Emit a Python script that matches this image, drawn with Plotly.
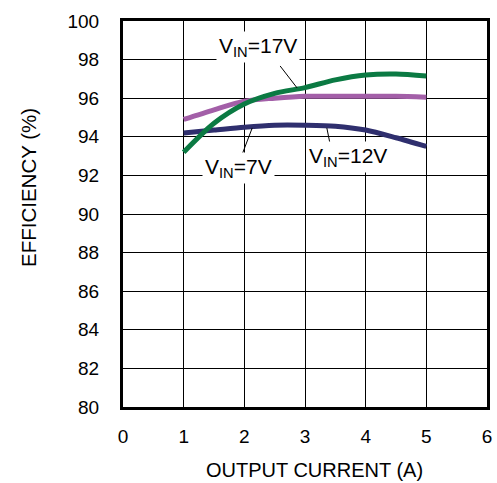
import plotly.graph_objects as go

current = [1, 1.5, 2, 2.5, 3, 3.5, 4, 4.5, 5]
eff_17v = [93.2, 94.7, 95.7, 96.25, 96.55, 96.95, 97.2, 97.25, 97.15]
eff_12v = [94.9, 95.4, 95.85, 96.0, 96.1, 96.1, 96.1, 96.1, 96.05]
eff_7v = [94.2, 94.35, 94.5, 94.6, 94.6, 94.55, 94.35, 93.95, 93.5]

x_ticks = [0, 1, 2, 3, 4, 5, 6]
y_ticks = [80, 82, 84, 86, 88, 90, 92, 94, 96, 98, 100]

FONT = "Liberation Sans, Arial, sans-serif"

fig = go.Figure()
series = [
    ("V<sub>IN</sub>=7V", eff_7v, "#2f2f6e"),
    ("V<sub>IN</sub>=12V", eff_12v, "#a35fa8"),
    ("V<sub>IN</sub>=17V", eff_17v, "#0b7a43"),
]
for name, ys, col in series:
    fig.add_trace(go.Scatter(x=current, y=ys, mode="lines", name=name,
                             line=dict(color=col, width=5, shape="spline", smoothing=0.8)))

# label pointer lines
pointers = [
    (2.59, 97.67, 2.87, 96.53),
    (1.96, 93.06, 2.13, 94.46),
    (3.36, 94.46, 3.41, 93.68),
]
for x0, y0, x1, y1 in pointers:
    fig.add_shape(type="line", x0=x0, y0=y0, x1=x1, y1=y1, xref="x", yref="y",
                  line=dict(color="black", width=1))

labels = [
    ("V<sub>IN</sub>=17V", 2.23, 98.65),
    ("V<sub>IN</sub>=7V", 1.90, 92.38),
    ("V<sub>IN</sub>=12V", 3.71, 92.93),
]
for txt, x, y in labels:
    fig.add_annotation(x=x, y=y, xref="x", yref="y", text=txt, showarrow=False,
                       bgcolor="white", borderpad=2,
                       font=dict(family=FONT, size=21, color="black"))

# axis titles
fig.add_annotation(x=0.5, y=0, xref="paper", yref="paper", xshift=9, yshift=-63, yanchor="middle",
                   text="OUTPUT CURRENT (A)", showarrow=False,
                   font=dict(family=FONT, size=20, color="black"))
fig.add_annotation(x=0, y=0.5, xref="paper", yref="paper", xshift=-95, yshift=26, xanchor="center",
                   text="EFFICIENCY (%)", textangle=-90, showarrow=False,
                   font=dict(family=FONT, size=20.5, color="black"))

fig.update_layout(
    width=497, height=483,
    margin=dict(l=123, r=10, t=21, b=76, autoexpand=False),
    paper_bgcolor="white", plot_bgcolor="white",
    showlegend=False,
    font=dict(family=FONT, size=19, color="black"),
)
fig.update_xaxes(range=[0, 6], tickvals=x_ticks, showgrid=True, gridcolor="black", gridwidth=1,
                 showline=True, linecolor="black", linewidth=3, mirror=True, zeroline=False,
                 ticks="outside", ticklen=10, tickcolor="rgba(0,0,0,0)", automargin=False)
fig.update_yaxes(range=[80, 100], tickvals=y_ticks, showgrid=True, gridcolor="black", gridwidth=1,
                 showline=True, linecolor="black", linewidth=3, mirror=True, zeroline=False,
                 ticks="outside", ticklen=17, tickcolor="rgba(0,0,0,0)", automargin=False)

fig.write_html("out.html", config={"displayModeBar": False},
               post_script="document.body.style.margin='0';document.body.style.overflow='hidden';")
